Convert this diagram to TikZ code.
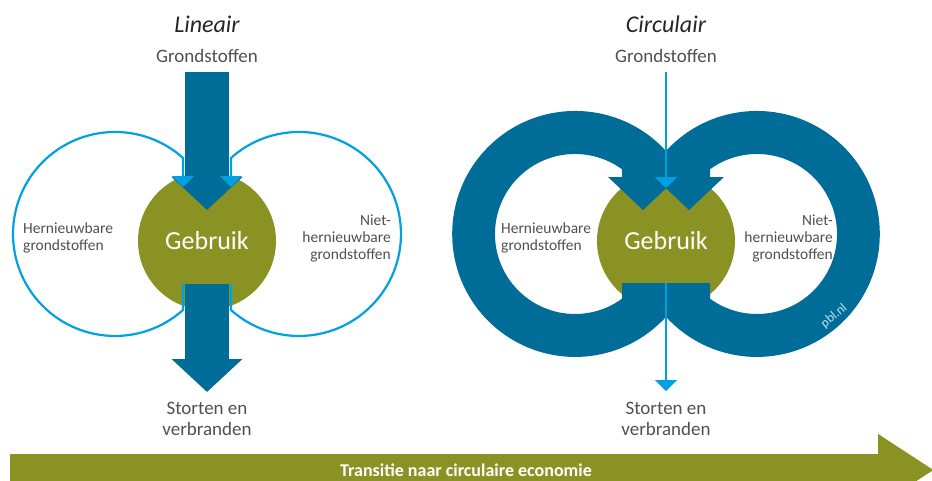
\documentclass[tikz,border=0pt]{standalone}
\usepackage{fontspec}
\setmainfont{Carlito}
\usetikzlibrary{arrows.meta,positioning}
\definecolor{pbldark}{RGB}{0,108,152}
\definecolor{pblcyan}{RGB}{0,160,226}
\definecolor{pblolive}{RGB}{138,146,35}
\definecolor{pblgrey}{RGB}{80,80,80}

\begin{document}
\begin{tikzpicture}[
    x=1pt, y=-1pt,
    heading/.style={font=\fontsize{24}{28}\selectfont\itshape, text=black!85},
    txt/.style={font=\fontsize{19}{21.5}\selectfont, text=pblgrey, align=center, inner sep=0pt},
    source/.style={font=\fontsize{15.5}{17}\selectfont, text=pblgrey, inner sep=0pt},
    usecircle/.style={circle, fill=pblolive, minimum size=138pt, text=white, font=\fontsize{26}{30}\selectfont, inner sep=0pt},
    fat/.style={line width=44pt, draw=pbldark, -{Triangle[width=69pt,length=33pt]}},
    flow/.style={line width=2.2pt, draw=pblcyan, -{Triangle[width=22pt,length=11pt]}},
    ring/.style={fill=pbldark}
]
    \useasboundingbox (0,0) rectangle (932,480);

    % lineair
    \node[heading] (lineair) at (207,24) {Lineair};
    \node[txt] (grond1) at (207,56) {Grondstoffen};
    \node[usecircle] (gebruik1) at (207,241) {Gebruik};
    \node[txt] (storten1) at (207,419) {Storten en\\verbranden};
    \node[source, anchor=west, align=left] (hern1) at (23,238) {Hernieuwbare\\grondstoffen};
    \node[source, anchor=east, align=right] (niet1) at (391,238) {Niet-\\hernieuwbare\\grondstoffen};
    \coordinate (in1) at (207,72);
    \coordinate (out1) at (207,392);

    \draw[fat] (in1) -- ([yshift=31pt]gebruik1.center);
    \draw[fat] ([yshift=-43pt]gebruik1.center) -- (out1);

    \draw[flow] (183,284) -- (183,310) arc[start angle=48.2, end angle=311.8, radius=102] -- (183,187);
    \draw[flow] (231,284) -- (231,310) arc[start angle=131.8, end angle=-131.8, radius=102] -- (231,187);

    % circulair
    \node[heading] (circulair) at (666,24) {Circulair};
    \node[txt] (grond2) at (666,56) {Grondstoffen};
    \node[usecircle] (gebruik2) at (666,241) {Gebruik};
    \node[txt] (storten2) at (666,419) {Storten en\\verbranden};
    \node[source, anchor=west, align=left] (hern2) at (501,238) {Hernieuwbare\\grondstoffen};
    \node[source, anchor=east, align=right] (niet2) at (833,238) {Niet-\\hernieuwbare\\grondstoffen};
    \coordinate (in2) at (666,72);
    \coordinate (out2) at (666,391);

    \foreach \s in {1,-1}
        \fill[ring, shift={(666,0)}, xscale=\s] (0,151)
            arc[start angle=-42.4, end angle=-317.6, radius=123]
            -- (0,283) -- (-44,283) -- (-44,298.7)
            arc[start angle=54, end angle=306, radius=80]
            -- (-44,177) -- (-58,177) -- (-23,210) -- (12,177) -- (0,177) -- cycle;

    \draw[flow] (in2) -- ([yshift=53pt]gebruik2.center);
    \draw[flow] ([yshift=-42pt]gebruik2.center) -- (out2);

    \node[rotate=40, font=\fontsize{13}{15}\selectfont, text=pblcyan!25, inner sep=0pt] (pbl) at (834,316) {pbl.nl};

    % transitie
    \coordinate (t0) at (10,470);
    \coordinate (t1) at (934,470);
    \draw[line width=32pt, pblolive, -{Triangle[width=68pt,length=56pt]}] (t0) -- (t1);
    \node[font=\fontsize{18}{21}\selectfont\bfseries, text=white] (transitie) at (466,470) {Transitie naar circulaire economie};
\end{tikzpicture}
\end{document}
